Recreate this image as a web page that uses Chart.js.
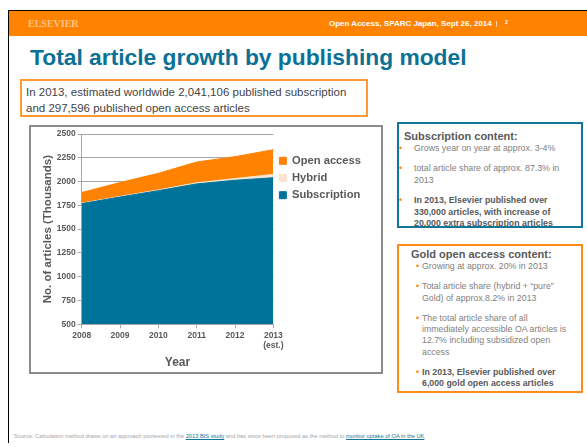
<!DOCTYPE html>
<html>
<head>
<meta charset="utf-8">
<script src="https://cdn.jsdelivr.net/npm/chart.js@4/dist/chart.umd.min.js"></script>
<style>
  html,body{margin:0;padding:0;background:#fff;}
  body{width:587px;height:447px;position:relative;overflow:hidden;font-family:"Liberation Sans",Arial,sans-serif;}
  .abs{position:absolute;}
  #frameTop{left:8px;top:10px;width:579px;height:1px;background:#000;}
  #frameLeft{left:8px;top:10px;width:1px;height:433px;background:#000;}
  #header{left:9px;top:11px;width:578px;height:25px;background:#ff8200;}
  #brand{left:28px;top:18px;font-family:"Liberation Serif",serif;font-weight:bold;font-size:10px;color:#ffc58a;}
  #event{left:329px;top:19px;font-weight:bold;font-size:8px;color:#fff;white-space:nowrap;}
  #bar{left:496px;top:21px;width:1px;height:6px;background:#ffd0a0;}
  #pno{left:505px;top:19px;font-size:5px;font-weight:bold;color:#fff;}
  #title{left:30px;top:44px;font-weight:bold;font-size:22.8px;line-height:27px;color:#0b7195;white-space:nowrap;}
  #lead{left:20px;top:79px;width:348px;height:38px;box-sizing:border-box;border:2px solid #ff9a33;padding:3px 0 0 4px;font-size:11.5px;line-height:16px;color:#444;}
  #chartBox{left:29px;top:125px;width:354px;height:249px;box-sizing:border-box;border:2px solid #8c8c8c;}
  #chartBox canvas{display:block;}
  .side{box-sizing:border-box;border:2px solid #10779a;font-size:8.8px;line-height:11.3px;color:#808080;}
  .side h4{margin:0;font-size:11px;font-weight:bold;color:#595959;line-height:12px;}
  .side ul{margin:1px 0 0 0;padding:0;list-style:none;}
  .side li{position:relative;margin-top:9.5px;}
  .side li:first-child{margin-top:0;}
  .side li:before{content:"•";position:absolute;color:#ff8200;}
  .side li.b{font-weight:bold;color:#595959;}
  #subBox{left:397px;top:122px;width:186px;height:106px;padding:5.5px 9px 0 0;}
  #subBox h4{margin-left:5px;}
  #subBox li{padding-left:15px;}
  #subBox li:before{left:0;}
  #goldBox{left:397px;top:244px;width:186px;height:149px;border-color:#ff8a1a;padding:2px 11px 0 17px;}
  #goldBox h4{margin-left:-5px;}
  #goldBox li{padding-left:6px;margin-top:9px;}
  #goldBox li:first-child{margin-top:0;}
  #goldBox li:before{left:0;}
  #source{left:14px;top:433px;font-size:5.7px;color:#a6a6a6;white-space:nowrap;}
  #source a{color:#10779a;text-decoration:underline;}
</style>
</head>
<body>
<div class="abs" id="frameTop"></div>
<div class="abs" id="frameLeft"></div>
<div class="abs" id="header"></div>
<div class="abs" id="brand">ELSEVIER</div>
<div class="abs" id="event">Open Access, SPARC Japan, Sept 26, 2014</div>
<div class="abs" id="bar"></div>
<div class="abs" id="pno">2</div>
<div class="abs" id="title">Total article growth by publishing model</div>
<div class="abs" id="lead">In 2013, estimated worldwide 2,041,106 published subscription<br>and 297,596 published open access articles</div>
<div class="abs" id="chartBox"><canvas id="growthChart" width="350" height="245"></canvas></div>
<div class="abs side" id="subBox">
  <h4>Subscription content:</h4>
  <ul>
    <li>Grows year on year at approx. 3-4%</li>
    <li>total article share of approx. 87.3% in 2013</li>
    <li class="b">In 2013, Elsevier published over 330,000 articles, with increase of 20,000 extra subscription articles</li>
  </ul>
</div>
<div class="abs side" id="goldBox">
  <h4>Gold open access content:</h4>
  <ul>
    <li>Growing at approx. 20% in 2013</li>
    <li>Total article share (hybrid + “pure” Gold) of approx.8.2% in 2013</li>
    <li>The total article share of all immediately accessible OA articles is 12.7% including subsidized open access</li>
    <li class="b">In 2013, Elsevier published over 6,000 gold open access articles</li>
  </ul>
</div>
<div class="abs" id="source">Source: Calculation method draws on an approach pioneered in the <a>2013 BIS study</a> and has since been proposed as the method to <a>monitor uptake of OA in the UK</a>.</div>

<script>
// ---- data (thousands of articles) ----
const years=["2008","2009","2010","2011","2012",["2013","(est.)"]];
const subscription=[1769,1838,1905,1976,2014,2041];
const hybrid=[5,6,8,12,18,35];
const openAccess=[112,146,174,218,231,260];
const yTicks={min:500,max:2500,step:250};

const TEAL="#00739a", ORANGE="#ff8200", PEACH="#fce4ce", GREY="#595959";
const FONT="Liberation Sans";

const ctx=document.getElementById("growthChart").getContext("2d");
new Chart(ctx,{
  type:"line",
  data:{
    labels:years,
    datasets:[
      {label:"Subscription",data:subscription,backgroundColor:TEAL,borderColor:TEAL,borderWidth:1,fill:"start",pointRadius:0,tension:0},
      {label:"Hybrid",data:hybrid,backgroundColor:PEACH,borderColor:PEACH,borderWidth:1,fill:"-1",pointRadius:0,tension:0},
      {label:"Open access",data:openAccess,backgroundColor:ORANGE,borderColor:ORANGE,borderWidth:1,fill:"-1",pointRadius:0,tension:0}
    ]
  },
  options:{
    responsive:false,animation:false,
    layout:{padding:{top:6,left:10,right:10,bottom:2}},
    plugins:{
      tooltip:{enabled:false},
      legend:{
        position:"right",align:"start",reverse:true,maxWidth:110,
        title:{display:true,text:"",font:{size:1},padding:{top:15,bottom:0}},
        labels:{boxWidth:7,boxHeight:7,padding:6,color:GREY,font:{family:FONT,size:11.2,weight:"bold"}}
      }
    },
    scales:{
      x:{
        offset:false,
        grid:{display:true,drawOnChartArea:false,drawTicks:true,tickLength:4,color:"#a6a6a6"},
        border:{display:true,color:"#a6a6a6"},
        ticks:{color:GREY,font:{family:FONT,size:8.5,weight:"bold"},maxRotation:0,padding:2},
        title:{display:true,text:"Year",color:GREY,font:{family:FONT,size:12,weight:"bold"},padding:{top:3,bottom:0}}
      },
      y:{
        stacked:true,min:yTicks.min,max:yTicks.max,
        grid:{color:"#a6a6a6",tickLength:4},
        border:{display:true,color:"#a6a6a6"},
        ticks:{stepSize:yTicks.step,color:GREY,font:{family:FONT,size:8.5,weight:"bold"},padding:2,callback:v=>String(v)},
        title:{display:true,text:"No. of articles (Thousands)",color:GREY,font:{family:FONT,size:11.5,weight:"bold"},padding:{top:0,bottom:0}}
      }
    }
  }
});
</script>
</body>
</html>
